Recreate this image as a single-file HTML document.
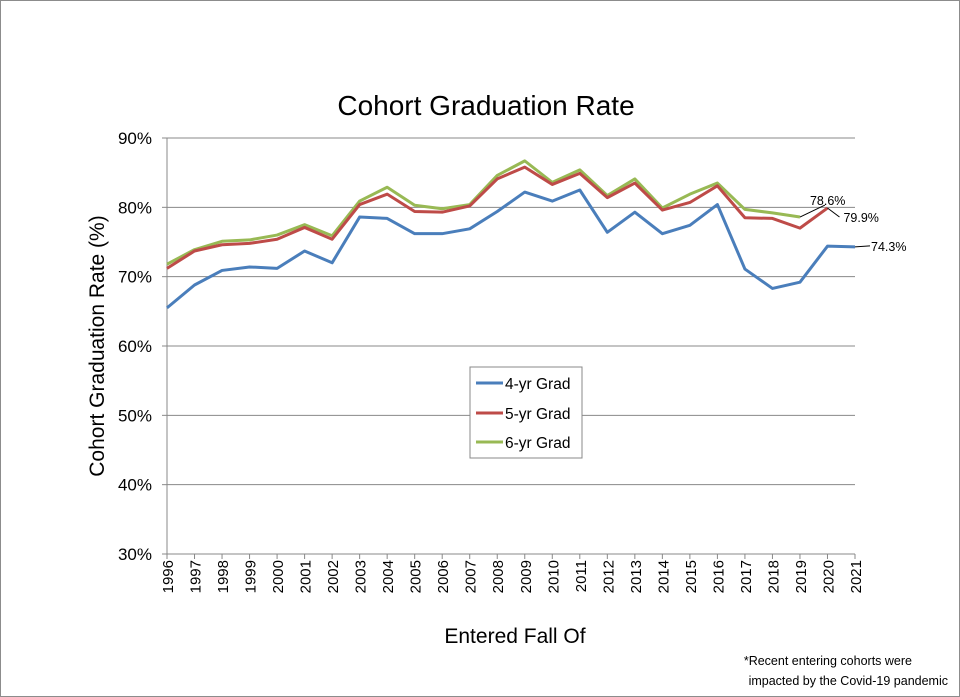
<!DOCTYPE html>
<html><head><meta charset="utf-8"><style>
body{margin:0;background:#fff}
svg{display:block;font-family:"Liberation Sans",sans-serif}
</style></head><body>
<svg id="c" width="960" height="697" viewBox="0 0 960 697">
<rect x="0.5" y="0.5" width="959" height="696" fill="#fff" stroke="#8c8c8c"/>
<text x="486" y="115" text-anchor="middle" font-size="28">Cohort Graduation Rate</text>
<text transform="translate(104,346) rotate(-90)" text-anchor="middle" font-size="21">Cohort Graduation Rate (%)</text>
<text x="515" y="643" text-anchor="middle" font-size="21">Entered Fall Of</text>
<text x="912" y="665" text-anchor="end" font-size="12.5">*Recent entering cohorts were</text>
<text x="948" y="685" text-anchor="end" font-size="12.5">impacted by the Covid-19 pandemic</text>
<g id="grid"></g><g id="axes"></g><g id="series"></g><g id="labels"></g>
<g>
<rect x="470" y="367" width="112" height="91" fill="#fff" stroke="#888"/>
<line x1="476" y1="383" x2="503" y2="383" stroke="#4a7ebb" stroke-width="3"/>
<text x="505" y="389" font-size="15.5">4-yr Grad</text>
<line x1="476" y1="413" x2="503" y2="413" stroke="#be4b48" stroke-width="3"/>
<text x="505" y="419" font-size="15.5">5-yr Grad</text>
<line x1="476" y1="442" x2="503" y2="442" stroke="#98b954" stroke-width="3"/>
<text x="505" y="448" font-size="15.5">6-yr Grad</text>
</g>
</svg>
<script>
const years=[1996,1997,1998,1999,2000,2001,2002,2003,2004,2005,2006,2007,2008,2009,2010,2011,2012,2013,2014,2015,2016,2017,2018,2019,2020,2021];
const grad4=[65.5,68.8,70.9,71.4,71.2,73.7,72.0,78.6,78.4,76.2,76.2,76.9,79.4,82.2,80.9,82.5,76.4,79.3,76.2,77.4,80.4,71.1,68.3,69.2,74.4,74.3];
const grad5=[71.2,73.7,74.6,74.8,75.4,77.1,75.4,80.4,81.9,79.4,79.3,80.2,84.1,85.8,83.3,84.9,81.4,83.5,79.6,80.7,83.1,78.5,78.4,77.0,79.9];
const grad6=[71.8,73.9,75.1,75.3,76.0,77.5,75.9,80.9,82.9,80.3,79.8,80.4,84.6,86.7,83.6,85.4,81.7,84.1,79.9,81.9,83.5,79.7,79.2,78.6];
const yTicks=[30,40,50,60,70,80,90];
const NS="http://www.w3.org/2000/svg";
const X0=167,X1=855,Y0=554,Y1=138,YMIN=30,YMAX=90;
function xs(i){return X0+(X1-X0)*i/(years.length-1);}
function ys(v){return Y0-(v-YMIN)/(YMAX-YMIN)*(Y0-Y1);}
function mk(tag,attrs,parent){const e=document.createElementNS(NS,tag);for(const k in attrs)e.setAttribute(k,attrs[k]);document.getElementById(parent).appendChild(e);return e;}
yTicks.forEach(t=>{
  const g=mk('line',{x1:X0,x2:X1,y1:ys(t),y2:ys(t),stroke:'#888','stroke-width':1},'grid');
  
  
  const tk=mk('line',{x1:X0-5,x2:X0,y1:ys(t),y2:ys(t),stroke:'#888'},'axes');
  
  
  const l=mk('text',{x:X0-15,y:ys(t)+6,'text-anchor':'end','font-size':17},'axes');
  l.textContent=t+'%';
  
  
});
const ax=mk('line',{x1:X0,x2:X0,y1:Y1,y2:Y0,stroke:'#888'},'axes');


const bx=mk('line',{x1:X0,x2:X1,y1:Y0,y2:Y0,stroke:'#888'},'axes');


years.forEach((yr,i)=>{
  const tk=mk('line',{x1:xs(i),x2:xs(i),y1:Y0,y2:Y0+5,stroke:'#888'},'axes');
  
  
  const l=mk('text',{transform:`translate(${xs(i)+6},${Y0+6}) rotate(-90)`,'text-anchor':'end','font-size':15},'axes');
  l.textContent=yr;
  
  
});
function line(data,color,name){
  const p=mk('polyline',{points:data.map((v,i)=>xs(i)+','+ys(v)).join(' '),fill:'none',stroke:color,'stroke-width':3,'stroke-linejoin':'round'},'series');
  
  
}
line(grad6,'#98b954','series-6yr-grad');
line(grad5,'#be4b48','series-5yr-grad');
line(grad4,'#4a7ebb','series-4yr-grad');
function lab(x1,y1,x2,y2,tx,ty,txt,name){
  const l=mk('line',{x1:x1,y1:y1,x2:x2,y2:y2,stroke:'#000','stroke-width':1},'labels');
  
  
  const t=mk('text',{x:tx,y:ty,'font-size':12.5},'labels');
  t.textContent=txt;
  
  
}
const i6=grad6.length-1,i5=grad5.length-1,i4=grad4.length-1;
lab(xs(i6),ys(grad6[i6]),xs(i6)+25,ys(grad6[i6])-12,xs(i6)+10,ys(grad6[i6])-12,grad6[i6].toFixed(1)+'%','label-6yr-last');
lab(xs(i5),ys(grad5[i5]),xs(i5)+12,ys(grad5[i5])+9,xs(i5)+16,ys(grad5[i5])+14,grad5[i5].toFixed(1)+'%','label-5yr-last');
lab(xs(i4),ys(grad4[i4]),xs(i4)+15,ys(grad4[i4])-1,xs(i4)+16,ys(grad4[i4])+4,grad4[i4].toFixed(1)+'%','label-4yr-last');
</script>
</body></html>
